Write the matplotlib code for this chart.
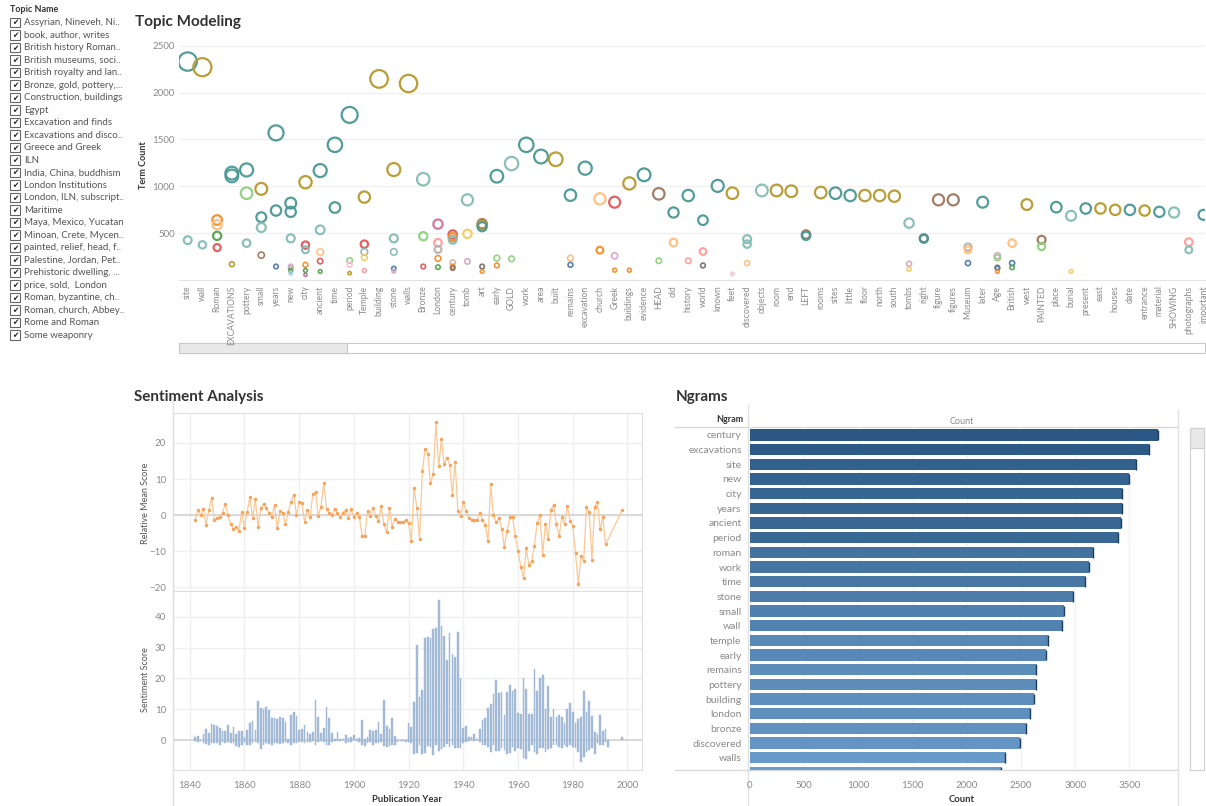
import numpy as np
import matplotlib
matplotlib.use("Agg")
import matplotlib.pyplot as plt
from matplotlib.patches import Rectangle
from matplotlib.colors import LinearSegmentedColormap, Normalize

W, H = 1206, 806
plt.rcParams['font.family'] = ['Lato', 'DejaVu Sans']

GREY = '#8a8a8a'
DARK = '#333333'

# ---------------- data ----------------
topic_names = [
    "Assyrian, Nineveh, Ni..", "book, author, writes", "British history Roman..",
    "British museums, soci..", "British royalty and lan..", "Bronze, gold, pottery,...",
    "Construction, buildings", "Egypt", "Excavation and finds",
    "Excavations and disco..", "Greece and Greek", "ILN", "India, China, buddhism",
    "London Institutions", "London, ILN, subscript..", "Maritime",
    "Maya, Mexico, Yucatan", "Minoan, Crete, Mycen..", "painted, relief, head, f..",
    "Palestine, Jordan, Pet..", "Prehistoric dwelling, ...", "price, sold,  London",
    "Roman, byzantine, ch..", "Roman, church, Abbey..", "Rome and Roman",
    "Some weaponry",
]

term_words = [
    "site", "wall", "Roman", "EXCAVATIONS", "pottery", "small", "years", "new",
    "city", "ancient", "time", "period", "Temple", "building", "stone", "walls",
    "Bronze", "London", "century", "tomb", "art", "early", "GOLD", "work", "area",
    "built", "remains", "excavation", "church", "Greek", "buildings", "evidence",
    "HEAD", "old", "history", "world", "known", "feet", "discovered", "objects",
    "room", "end", "LEFT", "rooms", "sites", "little", "floor", "north", "south",
    "tombs", "right", "figure", "figures", "Museum", "later", "Age", "British",
    "west", "PAINTED", "place", "burial", "present", "east", "houses", "date",
    "entrance", "material", "SHOWING", "photographs", "important",
]

# term counts per word (one entry per topic bubble)
term_counts = [
    [2330, 425], [2270, 375], [640, 590, 471, 346], [1140, 1110, 168],
    [1174, 926, 393], [972, 670, 560, 265], [1569, 741, 144],
    [820, 727, 444, 144, 125, 101, 73], [1043, 372, 322, 162, 101, 55],
    [1167, 535, 297, 201, 91], [1442, 773], [1761, 208, 162, 73],
    [884, 382, 300, 240, 101], [2145], [1178, 444, 300, 123, 94], [2096],
    [1075, 467, 144], [596, 397, 326, 230, 137], [485, 457, 429, 187, 144, 126],
    [855, 492, 198], [600, 585, 568, 144, 91], [1107, 233, 155], [1242, 226],
    [1442], [1317], [1288], [905, 233, 162], [1193], [866, 318], [830, 258, 105],
    [1030, 105], [1122], [919, 205], [720, 400], [901, 205], [638, 304, 155],
    [1004], [926, 66], [436, 383, 180], [955], [955], [947], [485, 471], [933],
    [926], [901], [901], [901], [894], [607, 173, 116], [445, 440], [855], [855],
    [351, 322, 180], [830], [258, 237, 134, 126, 91], [393, 180, 134], [805],
    [429, 358], [777], [685, 91], [763], [763], [748], [748], [741], [727], [720],
    [404, 322], [695],
]

# topic colour key for each bubble above
term_topics = [
    "Tt", "Gt", "OoNR", "TTG", "Tnt", "GTtB", "TTU", "TTtvkNu", "GRtONP", "TtoRN",
    "TT", "TnmG", "GRtyp", "G", "GttUv", "G", "tnR", "MpkON", "ROtbOK", "tyv",
    "BGTKO", "TnO", "tn", "T", "T", "G", "ToU", "T", "oO", "RvO", "GO", "T", "Bn",
    "To", "Tp", "TpK", "T", "Gm", "tto", "t", "G", "G", "BT", "G", "T", "T", "G",
    "G", "G", "tvy", "KT", "B", "B", "koU", "T", "vnKUO", "oUN", "G", "Bn", "T",
    "ty", "T", "G", "G", "T", "G", "T", "t", "pt", "T",
]

topic_palette = {
    'T': '#499894', 't': '#86BCB6', 'G': '#B6992D', 'y': '#F1CE63',
    'O': '#F28E2B', 'o': '#FFBE7D', 'R': '#E15759', 'p': '#FF9D9A',
    'N': '#59A14F', 'n': '#8CD17D', 'B': '#9D7660', 'b': '#D7B5A6',
    'K': '#79706E', 'k': '#BAB0AC', 'M': '#D37295', 'm': '#FABFD2',
    'P': '#B07AA1', 'v': '#D4A6C8', 'U': '#4E79A7', 'u': '#A0CBE8',
}

mean_years = list(range(1842, 1993)) + [1998]
relative_mean = [
    -1.4, 1.5, 0.0, 1.7, -2.8, 1.4, 4.7, -1.4, -0.8, -0.5,
    0.7, 3.1, 0.0, -2.5, -3.7, -3.3, -4.3, 0.8, -3.5, 1.0,
    5.0, -0.9, 4.5, -3.3, 2.0, 3.1, 1.9, 0.5, -0.5, 2.9,
    -3.6, 1.1, 0.6, -2.4, 0.9, 3.6, 5.7, 0.1, 3.6, 3.3,
    -2.0, 1.4, -0.6, 5.8, 6.4, -0.3, 2.4, 9.0, 1.7, 0.7,
    0.0, 1.8, 0.6, -0.6, 0.7, 1.4, -0.8, 1.7, -0.6, 0.7,
    -0.5, -5.8, -5.7, 1.1, -0.1, 2.0, -0.2, -1.7, 2.5, -2.4,
    -4.7, 2.0, -3.2, -1.0, -1.8, -1.8, -1.8, -1.4, -2.3, -7.2,
    7.5, 2.1, -6.7, 12.2, 18.2, 16.9, 8.9, 11.3, 25.8, 13.5,
    21.0, 14.2, 15.9, 14.0, 5.7, 14.8, 1.2, -0.2, 3.6, 1.1,
    -0.8, -1.2, -1.2, -1.4, 0.7, -1.2, -2.7, -7.2, 8.5, 0.0,
    -2.0, -0.8, -3.7, -8.8, -4.3, -0.5, -0.6, -5.8, -9.8, -14.3,
    -17.4, -9.2, -13.9, -12.7, -8.4, -2.1, 0.1, -10.9, -2.5, -6.7,
    1.4, 2.9, -2.5, -5.8, -0.6, -2.5, 2.6, -1.5, -2.9, -10.6,
    -19.0, -11.3, -12.6, 2.3, 0.9, -12.3, 2.3, 3.7, -3.8, -0.6,
    -8.1, 1.3,
]

score_years = list(range(1842, 1994)) + [1998]
score_high = [
    1.2, 1.3, 0.2, 2.2, 3.6, 2.5, 5.3, 5.0, 4.5, 4.0,
    3.0, 3.0, 5.0, 2.5, 4.3, 2.0, 3.0, 3.0, 1.0, 3.2,
    5.5, 6.2, 3.3, 12.7, 10.3, 10.0, 10.8, 9.8, 7.3, 7.2,
    7.0, 7.4, 7.2, 6.0, 0.5, 8.2, 9.0, 7.8, 3.2, 3.8,
    5.0, 2.8, 2.0, 2.8, 12.9, 7.6, 2.5, 4.0, 10.8, 7.2,
    2.5, 0.5, 2.8, 0.3, 0.3, 1.8, 0.8, 1.2, 1.6, 0.3,
    0.8, 6.5, 0.5, 1.0, 3.3, 3.0, 3.5, 5.8, 2.0, 13.0,
    4.5, 3.8, 7.1, 1.5, 0.2, 0.2, 0.2, 0.2, 5.5, 4.3,
    12.5, 30.8, 14.0, 16.3, 33.2, 33.5, 33.0, 36.0, 36.2, 45.3,
    37.0, 33.6, 26.0, 34.8, 28.0, 27.0, 35.0, 20.0, 4.0, 4.5,
    1.0, 1.0, 2.0, 0.5, 3.8, 6.5, 7.2, 10.5, 11.8, 15.0,
    19.4, 15.2, 15.5, 8.2, 15.6, 17.8, 16.0, 16.5, 8.8, 8.5,
    20.0, 16.5, 8.4, 8.5, 23.0, 16.0, 20.0, 21.0, 10.0, 17.7,
    7.7, 10.0, 7.5, 8.3, 7.5, 5.5, 10.0, 12.0, 9.0, 5.5,
    7.0, 7.7, 16.0, 9.0, 12.7, 8.0, 2.8, 2.0, 8.2, 3.0,
    3.6, 0.2, 1.2,
]
score_low = [
    -0.3, -0.5, -0.2, -1.0, -1.2, -1.5, -1.0, -1.0, -0.8, -1.5,
    -0.5, -0.8, -0.5, -1.0, -0.8, -1.8, -2.2, -1.5, -0.5, -1.5,
    -1.5, -1.0, -0.5, -0.8, -2.8, -1.5, -0.8, -1.2, -1.5, -0.8,
    -1.0, -1.2, -1.0, -0.5, -1.0, -1.5, -0.8, -1.0, -0.5, -0.5,
    -0.8, -0.5, -0.5, -0.3, -1.5, -0.5, -0.3, -0.5, -1.5, -1.5,
    -0.5, -0.3, -0.2, -0.2, 0.0, -1.0, -0.5, -0.5, 0.0, -0.2,
    -0.5, -1.5, -1.8, -1.0, -0.5, -1.5, -1.0, -1.0, -0.5, -1.8,
    -2.2, -1.8, -1.5, -1.5, -0.5, -0.2, -0.3, -0.5, -0.5, -1.0,
    -4.3, -4.0, -1.5, -4.3, -4.1, -1.8, -2.3, -4.6, -1.5, -3.3,
    -2.8, -2.0, -1.2, -2.0, -1.5, -2.5, -2.5, -2.5, -1.0, -0.5,
    -0.3, 0.0, -0.3, 0.0, -0.5, -1.5, -1.5, -2.0, -3.7, -1.5,
    -3.3, -3.5, -2.5, -3.0, -4.5, -4.0, -2.0, -3.5, -2.5, -2.8,
    -5.6, -6.0, -3.5, -1.5, -3.8, -4.3, -2.5, -2.5, -3.8, -2.8,
    -2.5, -1.5, -1.5, -2.0, -2.5, -1.5, -2.0, -1.5, -2.0, -2.5,
    -3.8, -7.0, -5.3, -3.8, -3.0, -2.5, -4.5, -1.0, -1.5, -1.5,
    -0.5, -2.2, 0.0,
]

ngram_words = [
    "century", "excavations", "site", "new", "city", "years", "ancient", "period",
    "roman", "work", "time", "stone", "small", "wall", "temple", "early",
    "remains", "pottery", "building", "london", "bronze", "discovered", "walls", "",
]
ngram_counts = [
    3760, 3684, 3558, 3499, 3435, 3435, 3422, 3398, 3167, 3130, 3090, 2983,
    2900, 2875, 2746, 2728, 2641, 2635, 2623, 2586, 2549, 2491, 2349, 2319,
]


def rect(x0, y0, x1, y1):
    return [x0 / W, 1 - y1 / H, (x1 - x0) / W, (y1 - y0) / H]


fig = plt.figure(figsize=(W / 100, H / 100), dpi=100)
ov = fig.add_axes([0, 0, 1, 1], zorder=0)
ov.set_xlim(0, W); ov.set_ylim(H, 0); ov.axis('off')

# ---------------- legend ----------------
ov.text(10, 10, "Topic Name", fontsize=6.5, fontweight='bold', color=DARK, va='center')
for i, name in enumerate(topic_names):
    y = 22.7 + 12.5 * i
    ov.add_patch(Rectangle((10, y - 4.8), 9.5, 9.5, fc='white', ec='#666666', lw=0.8))
    ov.text(14.8, y + 0.3, "\u2714", fontsize=5.5, color='#222222', ha='center', va='center',
            family=['DejaVu Sans'])
    ov.text(24, y, name, fontsize=7, color='#555555', va='center')

# ---------------- Topic Modeling ----------------
ov.text(135, 22, "Topic Modeling", fontsize=11, fontweight='bold', color=DARK, va='center')
ax = fig.add_axes(rect(179, 40, 1205, 280), zorder=1)
ax.set_facecolor('none')
xs, ys, cs = [], [], []
for i, (counts, keys) in enumerate(zip(term_counts, term_topics)):
    for c, k in zip(counts, keys):
        xs.append(i); ys.append(c); cs.append(topic_palette[k])
xs, ys = np.array(xs), np.array(ys)
order = np.argsort(-ys)
sizes = np.maximum(0.075 * ys, 5)
lws = np.where(ys > 300, 1.6, 1.2)
ax.scatter(xs[order], ys[order], s=sizes[order], facecolors='none',
           edgecolors=[cs[j] for j in order], linewidths=lws[order], alpha=0.95, zorder=3)
ax.set_xlim(-0.59, 69.1)
ax.set_ylim(0, 2560)
ax.set_yticks([500, 1000, 1500, 2000, 2500])
ax.set_xticks(range(len(term_words)))
ax.set_xticklabels(term_words, rotation=90, fontsize=6.2, color=GREY)
ax.tick_params(axis='y', labelsize=7, labelcolor=GREY, length=0, pad=3)
ax.tick_params(axis='x', length=0, pad=4)
ax.grid(axis='y', color='#f0f0f0', lw=1)
ax.set_axisbelow(True)
for s in ['top', 'right', 'left']:
    ax.spines[s].set_visible(False)
ax.spines['bottom'].set_color('#e3e3e3')
ov.text(143, 165, "Term Count", fontsize=6.5, fontweight='bold', color=DARK,
        rotation=90, ha='center', va='center')
# scroll bar
ov.add_patch(Rectangle((179, 343), 1026, 10, fc='white', ec='#c8c8c8', lw=0.8, zorder=5))
ov.add_patch(Rectangle((179, 343), 168, 10, fc='#e8e8e8', ec='#c8c8c8', lw=0.8, zorder=5))

# ---------------- Sentiment Analysis ----------------
ov.text(134, 397, "Sentiment Analysis", fontsize=11, fontweight='bold', color=DARK, va='center')
xlim_years = (1833.9, 2005.3)
ax1 = fig.add_axes(rect(173, 413, 642, 591), zorder=1)
ax2 = fig.add_axes(rect(173, 591, 642, 770), zorder=1)
for a in (ax1, ax2):
    a.set_facecolor('none')
    a.set_xlim(*xlim_years)
    a.set_xticks(range(1840, 2001, 20))
    a.grid(True, color='#efefef', lw=1)
    a.set_axisbelow(True)
    for s in a.spines.values():
        s.set_color('#dedede')
    a.tick_params(length=0, labelsize=7, labelcolor=GREY, pad=5)
ax1.plot(mean_years, relative_mean, color='#fbc896', lw=0.9, marker='o', ms=1.5,
         mfc='#f5a45a', mec='#f5a45a', zorder=3)
ax1.axhline(0, color='#d6d6d6', lw=1.3, zorder=1)
ax1.set_ylim(-21, 28.3)
ax1.set_yticks([-20, -10, 0, 10, 20])
ax1.tick_params(labelbottom=False)

heights = np.array(score_high) - np.array(score_low)
ax2.bar(score_years, heights, bottom=score_low, width=0.62, color='#a4bcd8',
        edgecolor='#9db5d3', lw=0.3, zorder=3)
ax2.axhline(0, color='#d6d6d6', lw=1.3, zorder=1)
ax2.set_ylim(-9.6, 48.3)
ax2.set_yticks([0, 10, 20, 30, 40])
ax2.tick_params(axis='x', pad=8)
ov.text(145, 503, "Relative Mean Score", fontsize=6.5, color='#555555', rotation=90,
        ha='center', va='center')
ov.text(145, 680, "Sentiment Score", fontsize=6.5, color='#555555', rotation=90,
        ha='center', va='center')
ov.text(407, 800, "Publication Year", fontsize=6.8, fontweight='bold', color=DARK,
        ha='center', va='center')
ov.plot([173, 173], [400, 806], color='#dedede', lw=1)

# ---------------- Ngrams ----------------
ov.text(676, 397, "Ngrams", fontsize=11, fontweight='bold', color=DARK, va='center')
ax3 = fig.add_axes(rect(750, 427, 1178, 770), zorder=1)
ax3.set_facecolor('none')
cmap = LinearSegmentedColormap.from_list('blues', ['#6b9dcc', '#2a5783'])
norm = Normalize(2300, 3760)
pos = np.arange(len(ngram_counts))
ax3.barh(pos, ngram_counts, height=0.78, color=cmap(norm(np.array(ngram_counts))), zorder=3)
ax3.vlines(ngram_counts, pos - 0.36, pos + 0.36, color='#1d3d5c', lw=1.0, zorder=4)
ax3.set_xlim(0, 3948)
ax3.set_ylim(22.84, -0.545)
ax3.set_yticks(pos[:23])
ax3.set_yticklabels(ngram_words[:23], fontsize=7.5, color=GREY)
ax3.set_xticks(range(0, 3501, 500))
ax3.tick_params(length=0, labelsize=7, labelcolor=GREY)
ax3.tick_params(axis='y', pad=6, labelsize=7.5)
ax3.tick_params(axis='x', pad=8)
ax3.grid(axis='x', color='#f2f2f2', lw=1)
ax3.set_axisbelow(True)
for s in ax3.spines.values():
    s.set_visible(False)
ov.text(743, 420, "Ngram", fontsize=6.5, fontweight='bold', color=DARK, ha='right', va='center')
ov.text(962, 421, "Count", fontsize=6.5, color=GREY, ha='center', va='center')
ov.text(962, 799, "Count", fontsize=6.8, fontweight='bold', color=DARK, ha='center', va='center')
ov.plot([675, 1178], [427, 427], color='#d8d8d8', lw=1)
ov.plot([675, 1178], [770, 770], color='#d8d8d8', lw=1)
ov.plot([748, 748], [405, 806], color='#e0e0e0', lw=1)
ov.plot([1178, 1178], [410, 806], color='#e0e0e0', lw=1)
ov.add_patch(Rectangle((1190, 428), 14, 342, fc='white', ec='#cfcfcf', lw=0.8))
ov.add_patch(Rectangle((1190, 428), 14, 20, fc='#e8e8e8', ec='#cfcfcf', lw=0.8))

fig.savefig("out.png", dpi=100)
